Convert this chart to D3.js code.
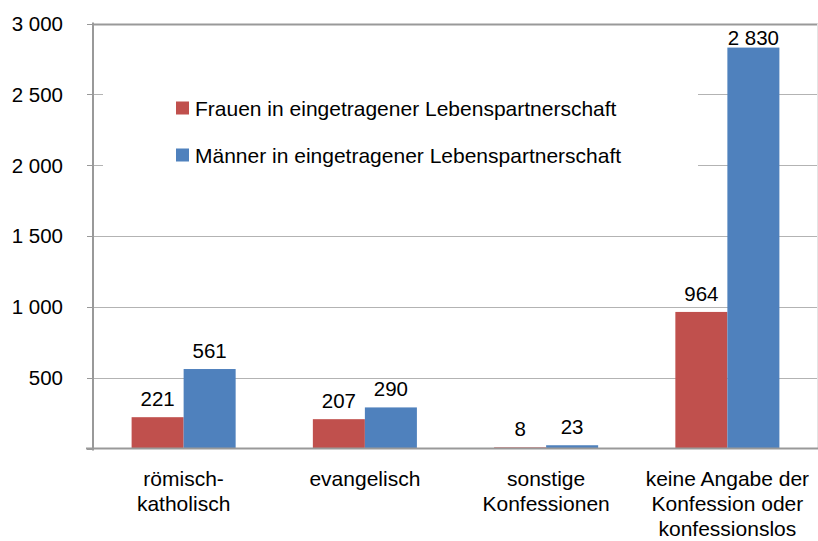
<!DOCTYPE html>
<html>
<head>
<meta charset="utf-8">
<script src="https://cdn.jsdelivr.net/npm/d3@7"></script>
<style>
  body { margin: 0; background: #fff; }
  svg text { font-family: "Liberation Sans", Arial, sans-serif; fill: #000; }
</style>
</head>
<body>
<svg id="chart"></svg>
<script>
// Chart data
const categories = ['römisch-katholisch', 'evangelisch', 'sonstige Konfessionen', 'keine Angabe der Konfession oder konfessionslos'];
const categoryLines = [
    ['römisch-', 'katholisch'],
    ['evangelisch'],
    ['sonstige', 'Konfessionen'],
    ['keine Angabe der', 'Konfession oder', 'konfessionslos']
];
const seriesNames = ['Frauen in eingetragener Lebenspartnerschaft', 'Männer in eingetragener Lebenspartnerschaft'];
const frauen = [221, 207, 8, 964];
const maenner = [561, 290, 23, 2830];
const yTicks = [0, 500, 1000, 1500, 2000, 2500, 3000];

const colors = ['#C0504D', '#4F81BD'];
const width = 818, height = 541;
const plot = { left: 93, right: 818, top: 23.5, bottom: 448.5 };

const svg = d3.select('#chart').attr('width', width).attr('height', height);

const y = d3.scaleLinear().domain([0, 3000]).range([plot.bottom, plot.top]);
const x0 = d3.scaleBand()
    .domain(categories)
    .range([plot.left, plot.right])
    .paddingInner(0.426)
    .paddingOuter(0.213);
const x1 = d3.scaleBand()
    .domain(seriesNames)
    .range([0, x0.bandwidth()]);

const fmt = v => d3.format(',')(v).replace(/,/g, ' ');

// Gridlines
svg.append('g')
    .selectAll('line')
    .data(yTicks.filter(t => t > 0))
    .join('line')
    .attr('x1', plot.left)
    .attr('x2', plot.right)
    .attr('y1', d => Math.round(y(d)) + 0.5)
    .attr('y2', d => Math.round(y(d)) + 0.5)
    .attr('stroke', d => d === 3000 ? '#999' : '#b3b3b3')
    .attr('stroke-width', d => d === 3000 ? 2 : 1);

// right border of plot area
svg.append('line')
    .attr('x1', 817.5).attr('x2', 817.5)
    .attr('y1', plot.top).attr('y2', plot.bottom)
    .attr('stroke', '#e4e4e4');

// Legend box (white, hides gridlines behind it)
const legend = svg.append('g');
legend.append('rect')
    .attr('x', 103).attr('y', 66)
    .attr('width', 595).attr('height', 132)
    .attr('fill', '#fff');

const legendItems = legend.selectAll('g.item')
    .data(seriesNames)
    .join('g')
    .attr('class', 'item')
    .attr('transform', (d, i) => `translate(176, ${101.5 + i * 47})`);
legendItems.append('rect')
    .attr('width', 13).attr('height', 13)
    .attr('fill', (d, i) => colors[i]);
legendItems.append('text')
    .attr('x', 19)
    .attr('y', 14)
    .style('font-size', '21px')
    .text(d => d);

// Bars
const groups = svg.append('g')
    .selectAll('g')
    .data(categories)
    .join('g')
    .attr('transform', d => `translate(${x0(d)},0)`);

const barData = (d, i) => [
    { key: seriesNames[0], value: frauen[i], color: colors[0] },
    { key: seriesNames[1], value: maenner[i], color: colors[1] }
];

groups.selectAll('rect')
    .data(barData)
    .join('rect')
    .attr('x', d => x1(d.key))
    .attr('y', d => y(d.value))
    .attr('width', x1.bandwidth())
    .attr('height', d => y(0) - y(d.value))
    .attr('fill', d => d.color);

// Value labels
groups.selectAll('text.value')
    .data(barData)
    .join('text')
    .attr('class', 'value')
    .attr('x', d => x1(d.key) + x1.bandwidth() / 2)
    .attr('y', d => Math.max(y(d.value) - 11, 45))
    .attr('text-anchor', 'middle')
    .style('font-size', '20.5px')
    .text(d => fmt(d.value));

// Y axis
const yAxis = svg.append('g');
yAxis.append('line')
    .attr('x1', plot.left).attr('x2', plot.left)
    .attr('y1', plot.top - 1).attr('y2', plot.bottom + 2)
    .attr('stroke', '#999').attr('stroke-width', 2);
yAxis.selectAll('line.tick')
    .data(yTicks)
    .join('line')
    .attr('class', 'tick')
    .attr('x1', 87).attr('x2', plot.left)
    .attr('y1', d => Math.round(y(d)) + 0.5)
    .attr('y2', d => Math.round(y(d)) + 0.5)
    .attr('stroke', '#999');
yAxis.selectAll('text')
    .data(yTicks.filter(t => t > 0))
    .join('text')
    .attr('x', 63)
    .attr('y', d => y(d))
    .attr('dy', '0.36em')
    .attr('text-anchor', 'end')
    .style('font-size', '20.5px')
    .text(d => fmt(d));

// X axis
svg.append('line')
    .attr('x1', 86).attr('x2', plot.right)
    .attr('y1', plot.bottom).attr('y2', plot.bottom)
    .attr('stroke', '#999').attr('stroke-width', 2);

svg.append('g')
    .selectAll('text')
    .data(categories)
    .join('text')
    .attr('x', d => x0(d) + x0.bandwidth() / 2)
    .attr('y', 486)
    .attr('text-anchor', 'middle')
    .style('font-size', '21px')
    .each(function(d, i) {
        d3.select(this).selectAll('tspan')
            .data(categoryLines[i])
            .join('tspan')
            .attr('x', x0(d) + x0.bandwidth() / 2)
            .attr('dy', (t, j) => j === 0 ? 0 : 25)
            .text(t => t);
    });
</script>
</body>
</html>
